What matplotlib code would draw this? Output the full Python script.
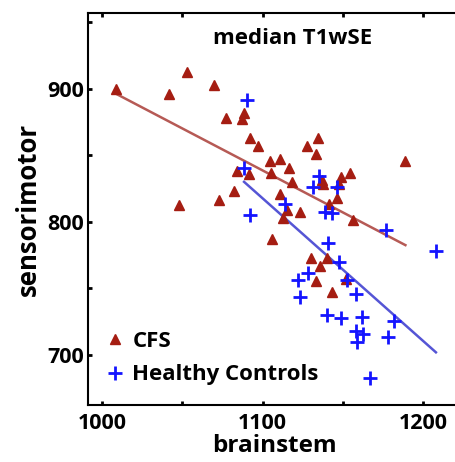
import numpy as np
import matplotlib
matplotlib.use("Agg")
import matplotlib.pyplot as plt
from matplotlib.ticker import MultipleLocator

plt.rcParams['font.family'] = ['Open Sans', 'DejaVu Sans']
plt.rcParams['font.weight'] = 'bold'

# CFS group (brainstem, sensorimotor)
cfs_x = [1008.5, 1053, 1042, 1069.5, 1088.5, 1087.5, 1077, 1092, 1097, 1127.7,
         1134.8, 1133.3, 1104.9, 1110.9, 1116.3, 1105.5, 1084.3, 1091.8, 1118.6, 1136.8,
         1137.9, 1147.9, 1148.7, 1154.5, 1189, 1082, 1073, 1047.8, 1111, 1115,
         1113, 1123.4, 1146.4, 1141.6, 1156.6, 1105.7, 1130, 1140.4, 1135.8, 1133.3,
         1143, 1151.8]
cfs_y = [900, 912.5, 896, 903, 882, 877, 878, 863, 857, 857.4,
         863.4, 851.4, 845.6, 847.6, 840.8, 836.8, 838.6, 835.9, 830, 831.6,
         828.4, 828.4, 834, 837, 845.4, 823, 816.5, 812.6, 820.6, 809,
         803, 807.5, 818, 813.5, 801.5, 787, 772.7, 772.7, 767, 755.6,
         747.6, 757]

# healthy controls
hc_x = [1090.6, 1088.5, 1135.4, 1131.2, 1146.4, 1114, 1092.2, 1139, 1143.1, 1177,
        1208, 1141, 1147.7, 1128.5, 1122.3, 1123.4, 1152.4, 1158.3, 1140.4, 1148.7,
        1162.2, 1182.1, 1158.3, 1162.8, 1158.7, 1178.4, 1167]
hc_y = [891.8, 840.4, 834.6, 826.5, 826.5, 813.5, 805.3, 807.8, 806.6, 794,
        778.4, 784.5, 769.7, 761.4, 756.4, 743.9, 756.4, 745.9, 730, 727.6,
        728.4, 725.6, 718.3, 715.8, 710, 713.8, 683]

fig = plt.figure(figsize=(4.56, 4.62), dpi=100)
ax = fig.add_axes([88 / 456, 57 / 462, 372 / 456, 392 / 462])

ax.plot(cfs_x, cfs_y, '^', color='#a51d12', ms=7, label='CFS', zorder=3)
ax.plot(hc_x, hc_y, '+', color='#1414ff', ms=10, mew=2, label='Healthy Controls', zorder=4)

# least-squares fit lines over each group's range
for xs, ys, col in [(cfs_x, cfs_y, '#b65a55'), (hc_x, hc_y, '#5555d5')]:
    k, b = np.polyfit(xs, ys, 1)
    xx = np.array([min(xs), max(xs)])
    ax.plot(xx, k * xx + b, '-', color=col, lw=1.8, zorder=2)

ax.set_xlim(991.3, 1223)
ax.set_ylim(662.4, 957)
ax.xaxis.set_major_locator(MultipleLocator(100))
ax.xaxis.set_minor_locator(MultipleLocator(50))
ax.yaxis.set_major_locator(MultipleLocator(100))
ax.yaxis.set_minor_locator(MultipleLocator(50))
ax.tick_params(which='both', direction='in', length=3, width=2, top=True, right=False,
               labelsize=15.5)
ax.tick_params(axis='x', pad=6)
ax.tick_params(axis='y', pad=3)
for s in ['left', 'bottom', 'top']:
    ax.spines[s].set_linewidth(1.5)
ax.spines['right'].set_visible(False)

ax.set_xlabel('brainstem', fontsize=17.5, fontweight='bold', labelpad=0)
ax.set_ylabel('sensorimotor', fontsize=18.5, fontweight='bold', labelpad=4)
ax.text(0.55, 0.935, 'median T1wSE', transform=ax.transAxes, ha='center', va='center',
        fontsize=16, fontweight='bold')

ax.legend(loc='lower left', bbox_to_anchor=(0, 0.013), frameon=False, fontsize=16,
          handletextpad=0.25, borderaxespad=0.25, handlelength=1.1, labelspacing=0.55)

fig.savefig('out.png', dpi=100)
